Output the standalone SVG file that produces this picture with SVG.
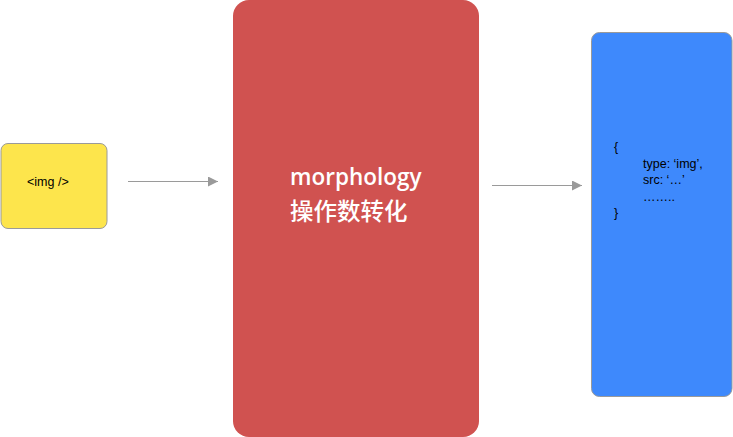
<svg xmlns="http://www.w3.org/2000/svg" width="733" height="437" viewBox="0 0 733 437">
<defs>
<style>
.lbl{font-family:"Liberation Sans","Noto Sans CJK SC",sans-serif;fill:#000;font-size:12.5px}
.big{font-family:"Open Sans","Noto Sans CJK SC",sans-serif;fill:#fff;font-size:22.5px;font-weight:600}
.cjk{font-family:"Noto Sans CJK SC",sans-serif;fill:#fff;font-size:23.5px;font-weight:500}
.conn{stroke:#9a9a9a;stroke-width:1;fill:none}
</style>
<marker id="ah" markerWidth="10" markerHeight="10" refX="10" refY="5" orient="auto" markerUnits="userSpaceOnUse">
<path d="M0,0 L10,5 L0,10 Z" fill="#9a9a9a"/>
</marker>
</defs>
<rect width="733" height="437" fill="#fff"/>
<g id="node-img">
<rect x="1" y="143.5" width="106" height="85" rx="7" fill="#fde54c" stroke="#9a9a9a" stroke-width="1"/>
<text class="lbl" x="27" y="186">&lt;img /&gt;</text>
</g>
<g id="node-morphology">
<rect x="233" y="0" width="246" height="437" rx="16" fill="#d05250"/>
<text class="big" x="290" y="185">morphology</text>
<text class="cjk" x="290" y="220">操作数转化</text>
</g>
<g id="node-result">
<rect x="591.5" y="32.5" width="140.5" height="364" rx="8" fill="#3e89fc" stroke="#9a9a9a" stroke-width="1"/>
<text class="lbl" x="614" y="151">{</text>
<text class="lbl" x="643" y="168">type: ‘img’,</text>
<text class="lbl" x="643" y="184">src: ‘…’</text>
<text class="lbl" x="643" y="201">……..</text>
<text class="lbl" x="614" y="217">}</text>
</g>
<g id="connectors">
<line class="conn" x1="128" y1="181.5" x2="218" y2="181.5" marker-end="url(#ah)"/>
<line class="conn" x1="492" y1="185.5" x2="582" y2="185.5" marker-end="url(#ah)"/>
</g>
</svg>
